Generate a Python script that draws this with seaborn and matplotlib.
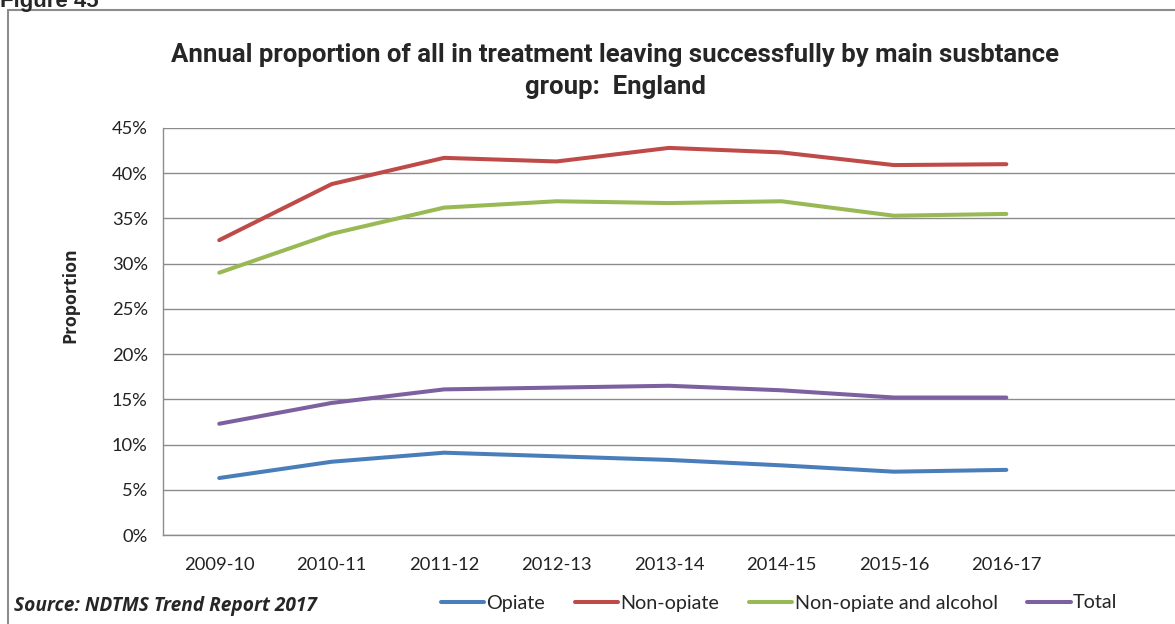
import pandas as pd
import numpy as np
import seaborn as sns
import matplotlib.pyplot as plt
from matplotlib.lines import Line2D
from matplotlib.ticker import PercentFormatter, FixedLocator

# data (percent)
years = ["2009-10", "2010-11", "2011-12", "2012-13", "2013-14", "2014-15", "2015-16", "2016-17"]
opiate = [6.3, 8.1, 9.1, 8.7, 8.3, 7.7, 7.0, 7.2]
non_opiate = [32.6, 38.8, 41.7, 41.3, 42.8, 42.3, 40.9, 41.0]
non_opiate_alcohol = [29.0, 33.3, 36.2, 36.9, 36.7, 36.9, 35.3, 35.5]
total = [12.3, 14.6, 16.1, 16.3, 16.5, 16.0, 15.2, 15.2]

groups = ["Opiate", "Non-opiate", "Non-opiate and alcohol", "Total"]
colors = ["#4A7EBB", "#BE4B48", "#98B954", "#7D60A0"]

df = pd.DataFrame({
    "Year": years * 4,
    "x": list(range(len(years))) * 4,
    "Proportion": opiate + non_opiate + non_opiate_alcohol + total,
    "Group": np.repeat(groups, len(years)),
})

sns.set_style("white")
plt.rcParams["font.family"] = ["Lato", "DejaVu Sans"]

fig = plt.figure(figsize=(11.75, 6.24), dpi=100)
ax = fig.add_axes([163 / 1175, 1 - 535 / 624, 1 - 163 / 1175, (535 - 128) / 624])

sns.lineplot(data=df, x="x", y="Proportion", hue="Group", hue_order=groups,
             palette=colors, linewidth=2.9, ax=ax, legend=False,
             solid_capstyle="round")

ax.set_xlim(-0.5, 8.5)
ax.set_ylim(0, 45)
ax.set_yticks(range(0, 46, 5))
ax.yaxis.set_major_formatter(PercentFormatter(decimals=0))
ax.grid(axis="y", color="#8c8c8c", linewidth=1.0)
ax.set_axisbelow(True)

ax.set_xticks(range(len(years)))
ax.set_xticklabels(years)
ax.xaxis.set_minor_locator(FixedLocator(np.arange(-0.5, 9.0, 1.0)))
ax.tick_params(axis="x", which="major", length=0, pad=16, labelsize=13.2, labelcolor="#222222")
ax.tick_params(axis="x", which="minor", length=5, color="#8c8c8c", width=1)
ax.tick_params(axis="y", length=5, color="#8c8c8c", width=1, labelsize=13.2, pad=6, labelcolor="#222222")
ax.set_xlabel("")
ax.set_ylabel("")

for s in ["top", "right"]:
    ax.spines[s].set_visible(False)
for s in ["left", "bottom"]:
    ax.spines[s].set_color("#8c8c8c")
    ax.spines[s].set_linewidth(1.0)

# title
fig.text(615 / 1175, 1 - 71 / 624,
         "Annual proportion of all in treatment leaving successfully by main susbtance\ngroup:  England",
         ha="center", va="center", fontsize=18.5, fontweight="bold",
         family=["Liberation Sans Narrow", "Roboto", "DejaVu Sans"], linespacing=1.45)

fig.text(70 / 1175, 1 - 295 / 624, "Proportion", rotation=90, ha="center", va="center",
         fontsize=12.8, fontweight="bold", family=["Open Sans", "DejaVu Sans"])

fig.text(14 / 1175, 1 - 606 / 624, "Source: NDTMS Trend Report 2017", ha="left", va="center",
         fontsize=13.8, fontweight="bold", style="italic", family=["Open Sans", "DejaVu Sans"])

fig.text(0.0, 1 - 2 / 624, "Figure 45", ha="left", va="center", fontsize=16, fontweight="bold",
         family=["Liberation Sans", "DejaVu Sans"])

# legend
handles = [Line2D([0], [0], color=c, linewidth=2.9) for c in colors]
fig.legend(handles, groups, loc="center", bbox_to_anchor=(779 / 1175, 1 - 603 / 624),
           ncol=4, frameon=False, fontsize=14.2, handlelength=2.2, handletextpad=0.12,
           columnspacing=1.5)

# chart border (left and top edges visible)
fig.add_artist(Line2D([8 / 1175, 8 / 1175], [0, 1 - 10 / 624], color="#8c8c8c", linewidth=1.5,
                      transform=fig.transFigure))
fig.add_artist(Line2D([8 / 1175, 1], [1 - 10 / 624, 1 - 10 / 624], color="#8c8c8c", linewidth=1.5,
                      transform=fig.transFigure))

fig.savefig("out.png", dpi=100)
